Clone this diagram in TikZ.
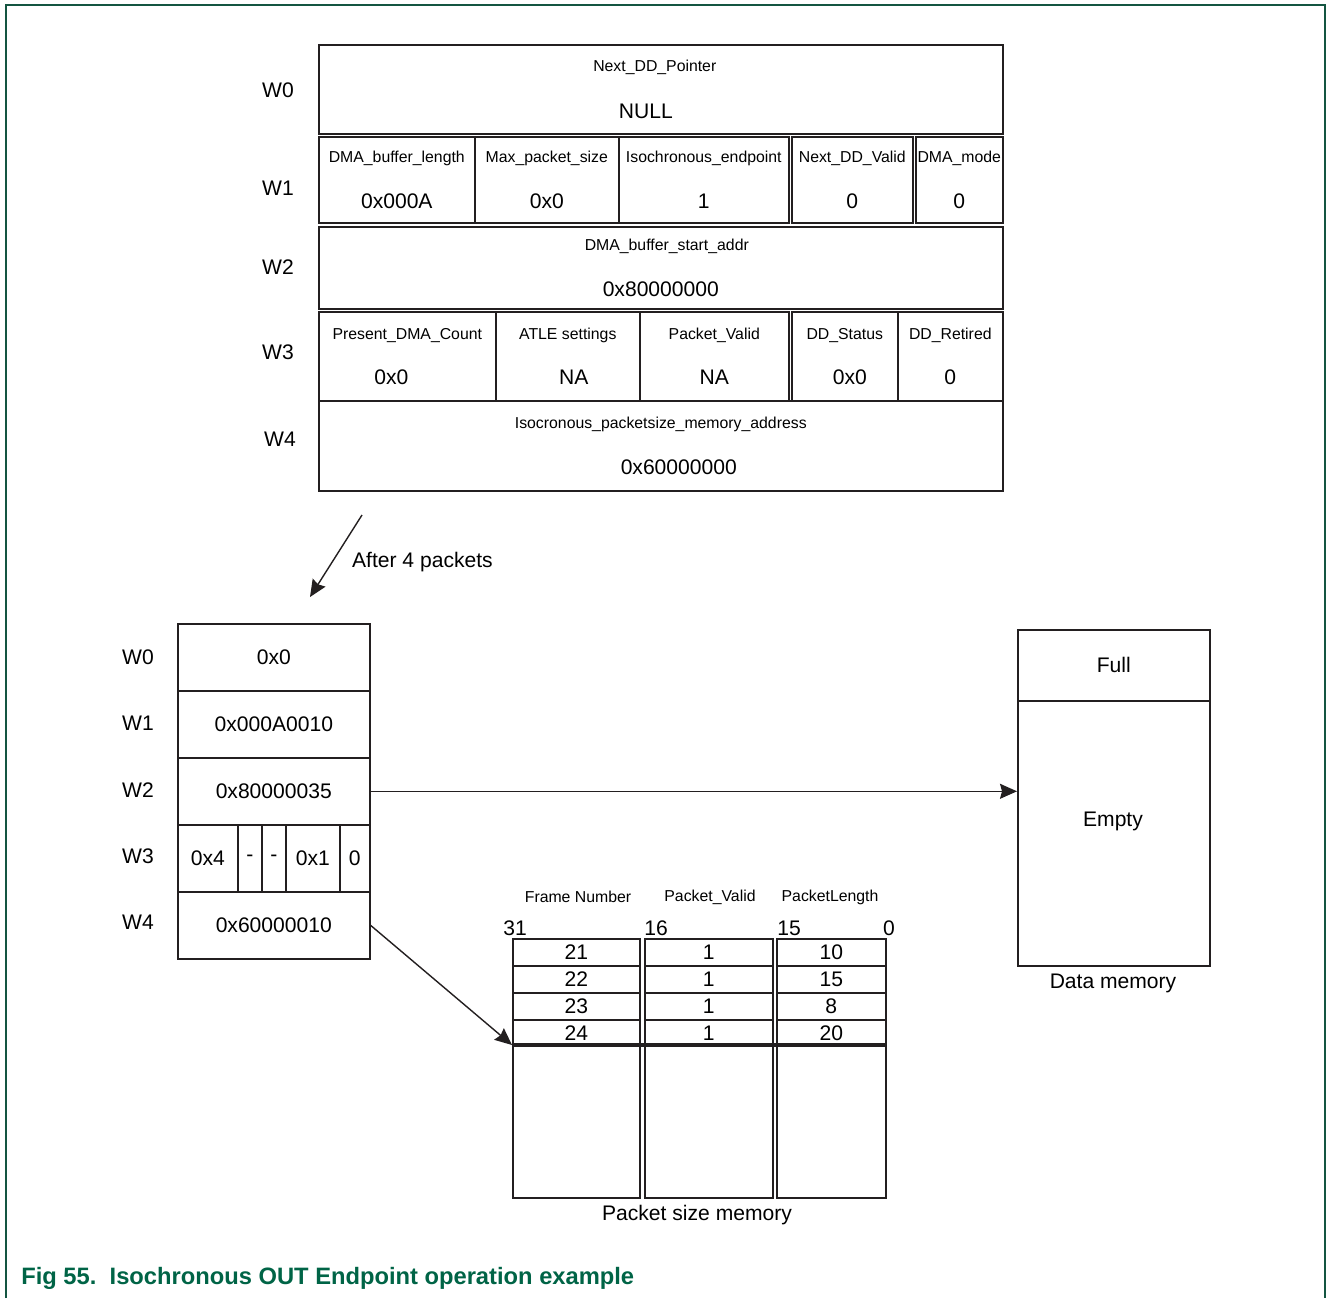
\documentclass[tikz,border=0pt]{standalone}
\usepackage{fontspec}
\setmainfont{Liberation Sans}
\usepackage{tikz}
\usetikzlibrary{
  arrows.meta,
  positioning,
  calc
}
\definecolor{linegray}{RGB}{35, 31, 32}
\definecolor{framegreen}{RGB}{20, 85, 65}
\definecolor{captiongreen}{RGB}{0, 100, 70}
\newcommand{\namefont}{\fontsize{9}{10.8}\selectfont}
\newcommand{\valfont}{\fontsize{12}{14.4}\selectfont}
\tikzset{
  cell/.style 2 args = {
    rectangle, draw=linegray, line width=0.9pt,
    inner sep=0pt, anchor=north west,
    minimum width=#1*0.02cm, minimum height=#2*0.02cm,
    align=center, font=\valfont
  },
  wlbl/.style = {font=\valfont, inner sep=1pt},
  hdr/.style  = {font=\namefont, inner sep=1pt},
  txt/.style  = {font=\valfont, inner sep=1pt},
  arr/.style  = {-{Stealth[length=0.34cm, width=0.3cm, inset=0.04cm]},
                 draw=linegray, line width=0.8pt},
  thick sep/.style = {draw=linegray, line width=2pt},
}

\begin{document}
\begin{tikzpicture}[x=0.02cm, y=-0.02cm]
  \useasboundingbox (0,0) rectangle (1327,1298);
  \draw[framegreen, line width=0.6pt] (6,1298) -- (6,5) -- (1325,5) -- (1325,1298);

  %% DD before transfer
  \node[cell={684}{89}] (w0) at (318,44)
    {{\namefont Next\_DD\_Pointer}\hspace*{0.24cm}\\[12pt]NULL\hspace*{0.6cm}};
  \node[cell={156}{86}] (w1a) at (318,136)
    {{\namefont DMA\_buffer\_length}\\[12pt]0x000A};
  \node[cell={144}{86}] (w1b) at (474,136)
    {{\namefont Max\_packet\_size}\\[12pt]0x0};
  \node[cell={170}{86}] (w1c) at (618,136)
    {{\namefont Isochronous\_endpoint}\\[12pt]1};
  \node[cell={121}{86}] (w1d) at (791,136)
    {{\namefont Next\_DD\_Valid}\\[12pt]0};
  \node[cell={87}{86}] (w1e) at (915,136)
    {{\namefont DMA\_mode}\\[12pt]0};
  \node[cell={684}{82}] (w2) at (318,226)
    {\hspace*{0.24cm}{\namefont DMA\_buffer\_start\_addr}\\[12pt]0x80000000};
  \node[cell={177}{89}] (w3a) at (318,311)
    {{\namefont Present\_DMA\_Count}\\[11pt]0x0\hspace*{0.64cm}};
  \node[cell={144}{89}] (w3b) at (495,311)
    {{\namefont ATLE settings}\\[11pt]\hspace*{0.24cm}NA};
  \node[cell={149}{89}] (w3c) at (639,311)
    {{\namefont Packet\_Valid}\\[11pt]NA};
  \node[cell={106}{89}] (w3d) at (791,311)
    {{\namefont DD\_Status}\\[11pt]\hspace*{0.2cm}0x0};
  \node[cell={105}{89}] (w3e) at (897,311)
    {{\namefont DD\_Retired}\\[11pt]0};
  \node[cell={684}{90}] (w4) at (318,400)
    {{\namefont Isocronous\_packetsize\_memory\_address}\\[12pt]\hspace*{0.72cm}0x60000000};

  \node[wlbl] (tw0) at (278,90) {W0};
  \node[wlbl] (tw1) at (278,188) {W1};
  \node[wlbl] (tw2) at (278,267) {W2};
  \node[wlbl] (tw3) at (278,352) {W3};
  \node[wlbl] (tw4) at (280,439) {W4};

  %% After 4 packets
  \coordinate (afrom) at (362,515);
  \coordinate (ato) at (310,597);
  \draw[arr] (afrom) -- (ato);
  \node[txt, anchor=west] (alab) at (350,562) {After 4 packets};

  %% DD after transfer
  \node[cell={192}{67}] (b0) at (177,623) {0x0};
  \node[cell={192}{67}] (b1) at (177,690) {0x000A0010};
  \node[cell={192}{67}] (b2) at (177,757) {0x80000035};
  \node[cell={60}{67}] (b3a) at (177,824) {0x4};
  \node[cell={24}{67}] (b3b) at (237,824) {-};
  \node[cell={24}{67}] (b3c) at (261,824) {-};
  \node[cell={54}{67}] (b3d) at (285,824) {0x1};
  \node[cell={30}{67}] (b3e) at (339,824) {0};
  \node[cell={192}{67}] (b4) at (177,891) {0x60000010};

  \node[wlbl] (bw0) at (138,657) {W0};
  \node[wlbl] (bw1) at (138,723) {W1};
  \node[wlbl] (bw2) at (138,790) {W2};
  \node[wlbl] (bw3) at (138,856) {W3};
  \node[wlbl] (bw4) at (138,922) {W4};

  %% Data memory
  \node[cell={192}{71}] (dm0) at (1017,629) {Full};
  \node[cell={192}{265}] (dm1) at (1017,700) {};
  \node[txt] (dmempty) at (1113,821) {Empty};
  \node[txt] (dmlab) at (1113,983) {Data memory};

  %% Packet size memory
  \node[hdr] (hfn) at (578,897) {Frame Number};
  \node[hdr] (hpv) at (710,897) {Packet\_Valid};
  \node[hdr] (hpl) at (830,897) {PacketLength};
  \node[txt] (bit31) at (515,928) {31};
  \node[txt] (bit16) at (656,928) {16};
  \node[txt] (bit15) at (789,928) {15};
  \node[txt] (bit0) at (889,928) {0};

  \node[cell={127}{27}] (pa1) at (512,938) {21};
  \node[cell={128}{27}] (pb1) at (644,938) {1};
  \node[cell={109}{27}] (pc1) at (776,938) {10};
  \node[cell={127}{27}] (pa2) at (512,965) {22};
  \node[cell={128}{27}] (pb2) at (644,965) {1};
  \node[cell={109}{27}] (pc2) at (776,965) {15};
  \node[cell={127}{27}] (pa3) at (512,992) {23};
  \node[cell={128}{27}] (pb3) at (644,992) {1};
  \node[cell={109}{27}] (pc3) at (776,992) {8};
  \node[cell={127}{26}] (pa4) at (512,1019) {24};
  \node[cell={128}{26}] (pb4) at (644,1019) {1};
  \node[cell={109}{26}] (pc4) at (776,1019) {20};
  \node[cell={127}{152}] (pa5) at (512,1045) {};
  \node[cell={128}{152}] (pb5) at (644,1045) {};
  \node[cell={109}{152}] (pc5) at (776,1045) {};
  \draw[thick sep] (pa5.north west) -- (pc5.north east);
  \node[txt] (pslab) at (697,1215) {Packet size memory};

  \draw[arr] (b2.east) -- (b2.east -| dm1.west);
  \draw[arr] (b4.east) -- (pa5.north west);

  %% Caption
  \node[anchor=west, inner sep=0pt, text=captiongreen,
        font=\fontsize{13.5}{16}\selectfont\bfseries] (caption) at (21,1278)
    {Fig 55.\ \ Isochronous OUT Endpoint operation example};

\end{tikzpicture}
\end{document}
